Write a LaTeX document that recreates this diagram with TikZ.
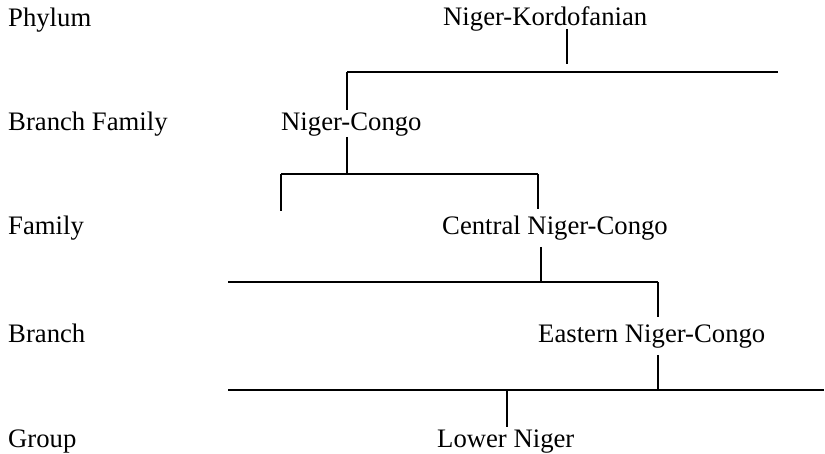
\documentclass[tikz,border=0pt]{standalone}
\usepackage{fontspec}
\setmainfont{Liberation Serif}
\usepackage{tikz}
\usetikzlibrary{positioning}
\tikzset{
    rank/.style={
           anchor=base west,
           inner sep=0pt,
           font=\fontsize{26.7}{30}\selectfont,
           },
    taxon/.style={
           rank,
           },
    bar/.style={
           draw=black, line width=1.3pt,
           },
}

\begin{document}
\begin{tikzpicture}[x=1pt,y=1pt]
  \useasboundingbox (0,0) rectangle (825,-454);
  % rank labels on the left
  \node[rank] (phylum) at (8,-27) {Phylum};
  \node[rank] (brfam) at (8,-131) {Branch Family};
  \node[rank] (family) at (8,-235) {Family};
  \node[rank] (branch) at (8,-343) {Branch};
  \node[rank] (group) at (8,-447) {Group};
  % the tree
  \node[taxon] (NK) at (443,-26) {Niger-Kordofanian};
  \node[taxon] (NC) at (281,-131) {Niger-Congo};
  \node[taxon] (CNC) at (442,-235) {Central Niger-Congo};
  \node[taxon] (ENC) at (538,-343) {Eastern Niger-Congo};
  \node[taxon] (LN) at (437,-447) {Lower Niger};
  % joints
  \coordinate (nktop) at (567,-29);
  \coordinate (nkfoot) at (567,-64);
  \coordinate (barAl) at (347,-72);
  \coordinate (barAr) at (778,-72);
  \coordinate (nchead) at (347,-110);
  \coordinate (nctail) at (347,-137);
  \coordinate (barBl) at (281,-174);
  \coordinate (barBm) at (347,-174);
  \coordinate (barBr) at (538,-174);
  \coordinate (dropBl) at (281,-211);
  \coordinate (dropBr) at (538,-209);
  \coordinate (cnctail) at (541,-247);
  \coordinate (barCl) at (228,-282);
  \coordinate (barCm) at (541,-282);
  \coordinate (barCr) at (658,-282);
  \coordinate (dropCr) at (658,-317);
  \coordinate (enctail) at (658,-355);
  \coordinate (barDl) at (228,-390);
  \coordinate (barDm) at (658,-390);
  \coordinate (barDr) at (824,-390);
  \coordinate (lnhead) at (507,-390);
  \coordinate (lnfoot) at (507,-427);
\path[bar]
  (nktop) -- (nkfoot)
  (barAl) -- (barAr)
  (barAl) -- (nchead)
  (nctail) -- (barBm)
  (barBl) -- (barBr)
  (barBl) -- (dropBl)
  (barBr) -- (dropBr)
  (cnctail) -- (barCm)
  (barCl) -- (barCr)
  (barCr) -- (dropCr)
  (enctail) -- (barDm)
  (barDl) -- (barDr)
  (lnhead) -- (lnfoot)
 ;
\end{tikzpicture}
\end{document}
